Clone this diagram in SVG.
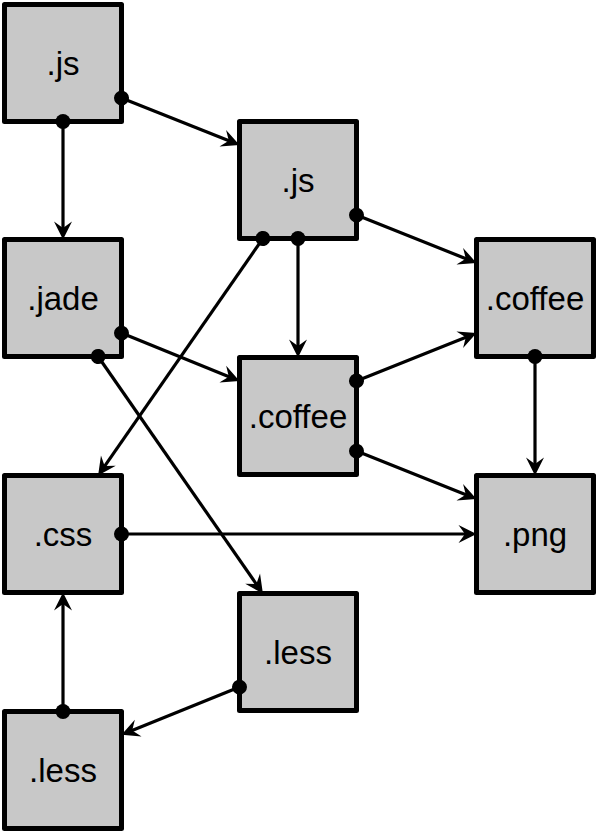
<svg xmlns="http://www.w3.org/2000/svg" width="597" height="833" viewBox="0 0 597 833">
<style>
.box{fill:#c8c8c8;stroke:#000;stroke-width:5;stroke-linejoin:round}
.lbl{font-family:"Liberation Sans",Arial,sans-serif;font-size:33px;fill:#000;text-anchor:middle}
.edge{stroke:#000;stroke-width:3.2;fill:none;marker-start:url(#dot);marker-end:url(#arr)}
</style>
<defs>
<marker id="arr" markerUnits="userSpaceOnUse" viewBox="-10 -10 22 20" refX="0" refY="0" markerWidth="22" markerHeight="20" orient="auto" overflow="visible">
<path d="M10,0 L-8,-9 L-1.5,0 L-8,9 Z" fill="#000"/>
</marker>
<marker id="dot" markerUnits="userSpaceOnUse" viewBox="-8 -8 16 16" refX="0" refY="0" markerWidth="16" markerHeight="16" orient="auto" overflow="visible">
<circle cx="0" cy="0" r="7.5" fill="#000"/>
</marker>
</defs>
<g id="nodes">
<g id="n-js1"><rect class="box" x="4.5" y="4.5" width="117" height="117"/><text class="lbl" x="63" y="75">.js</text></g>
<g id="n-js2"><rect class="box" x="239.5" y="121.5" width="117" height="117"/><text class="lbl" x="298" y="192">.js</text></g>
<g id="n-jade"><rect class="box" x="4.5" y="239.5" width="117" height="117"/><text class="lbl" x="63" y="310">.jade</text></g>
<g id="n-coffee1"><rect class="box" x="476.5" y="239.5" width="117" height="117"/><text class="lbl" x="535" y="310">.coffee</text></g>
<g id="n-coffee2"><rect class="box" x="239.5" y="357.5" width="117" height="117"/><text class="lbl" x="298" y="428">.coffee</text></g>
<g id="n-css"><rect class="box" x="4.5" y="475.5" width="117" height="117"/><text class="lbl" x="63" y="546">.css</text></g>
<g id="n-png"><rect class="box" x="476.5" y="475.5" width="117" height="117"/><text class="lbl" x="535" y="546">.png</text></g>
<g id="n-less1"><rect class="box" x="239.5" y="593.5" width="117" height="117"/><text class="lbl" x="298" y="664">.less</text></g>
<g id="n-less2"><rect class="box" x="4.5" y="711.5" width="117" height="117"/><text class="lbl" x="63" y="782">.less</text></g>
</g>
<g id="connectors">
<line class="edge" x1="121.5" y1="98.1" x2="230.2" y2="141.2"/>
<line class="edge" x1="63" y1="121.5" x2="63" y2="229.5"/>
<line class="edge" x1="356.5" y1="215.1" x2="467.2" y2="259.2"/>
<line class="edge" x1="298" y1="238.5" x2="298" y2="347.5"/>
<line class="edge" x1="262.9" y1="238.5" x2="103.8" y2="467.3"/>
<line class="edge" x1="121.5" y1="333.1" x2="230.2" y2="377.2"/>
<line class="edge" x1="98.1" y1="356.5" x2="257.2" y2="585.3"/>
<line class="edge" x1="356.5" y1="380.9" x2="467.2" y2="336.8"/>
<line class="edge" x1="356.5" y1="451.1" x2="467.2" y2="495.2"/>
<line class="edge" x1="535" y1="356.5" x2="535" y2="465.5"/>
<line class="edge" x1="121.5" y1="534" x2="466.5" y2="534"/>
<line class="edge" x1="63" y1="711.5" x2="63" y2="602.5"/>
<line class="edge" x1="239.5" y1="687.1" x2="130.8" y2="731.1"/>
</g>
</svg>
